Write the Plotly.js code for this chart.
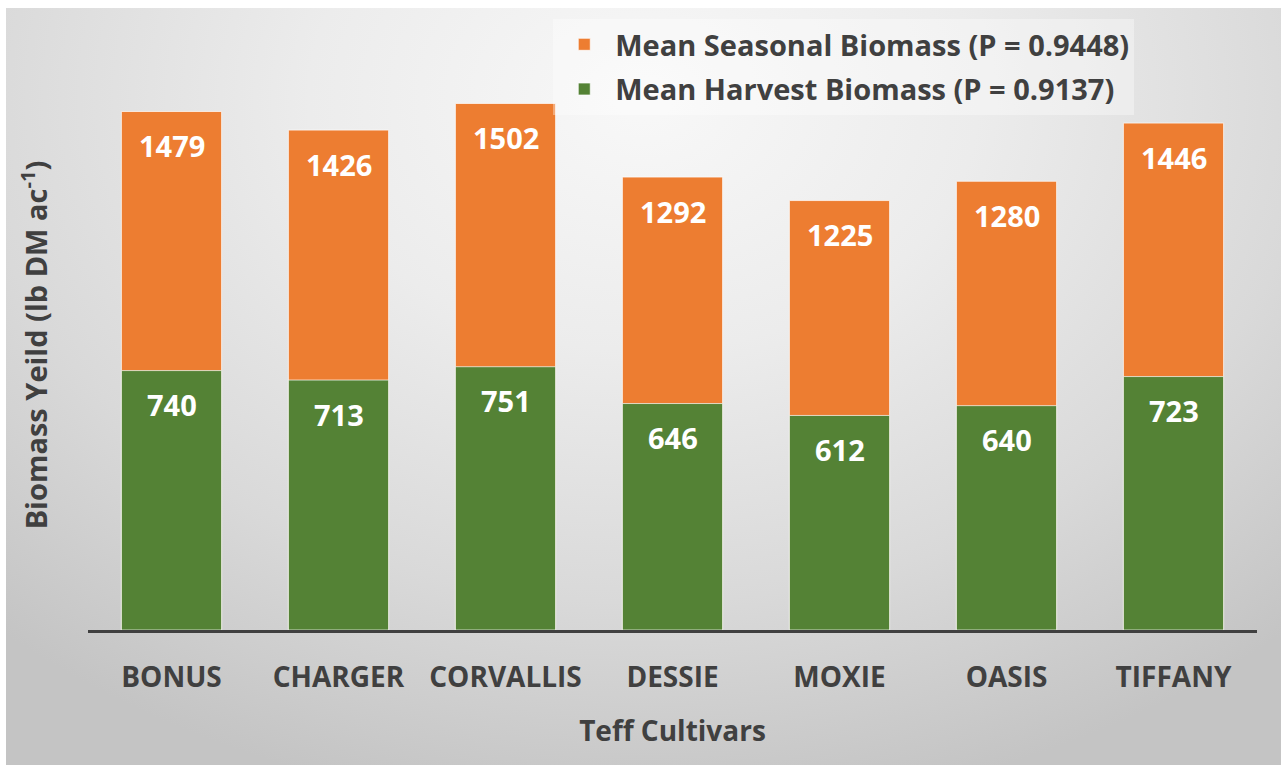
<!DOCTYPE html>
<html>
<head>
<meta charset="utf-8">
<script src="https://cdn.plot.ly/plotly-3.0.1.min.js"></script>
<style>
  html, body { margin:0; padding:0; background:#ffffff; width:1281px; height:765px; overflow:hidden; }
  #bg { position:absolute; left:6px; top:8px; width:1275px; height:757px;
        background: radial-gradient(ellipse 75% 95% at 50% 12%, #f8f8f8 0%, #ececec 35%, #d9d9d9 70%, #c4c4c4 100%); }
  #chart { position:absolute; left:0; top:0; width:1281px; height:765px; }
</style>
</head>
<body>
<div id="bg"></div>
<div id="chart"></div>
<script>
const cultivars = ["BONUS", "CHARGER", "CORVALLIS", "DESSIE", "MOXIE", "OASIS", "TIFFANY"];
const seasonalBiomass = [1479, 1426, 1502, 1292, 1225, 1280, 1446];
const harvestBiomass = [740, 713, 751, 646, 612, 640, 723];
const seasonalName = "Mean Seasonal Biomass (P = 0.9448)";
const harvestName = "Mean Harvest Biomass (P = 0.9137)";

const textColor = "#404040";
const fontFam = "'Open Sans', 'DejaVu Sans', sans-serif";

const traces = [
  {
    type: "bar", x: cultivars, y: seasonalBiomass, name: seasonalName, legendgroup: "a",
    marker: { color: "#ED7D31", line: { color: "rgba(255,255,255,0.7)", width: 1 } },
    hoverinfo: "x+y"
  },
  {
    type: "bar", x: cultivars, y: harvestBiomass, name: harvestName, legendgroup: "b",
    marker: { color: "#548235", line: { color: "rgba(255,255,255,0.7)", width: 1 } },
    hoverinfo: "x+y"
  }
];

const annotations = [];
[seasonalBiomass, harvestBiomass].forEach(series => {
  series.forEach((v, i) => {
    annotations.push({
      x: cultivars[i], y: v, xref: "x", yref: "y",
      text: String(v), showarrow: false, yanchor: "middle", yshift: -34,
      font: { family: fontFam, size: 29, color: "#ffffff", weight: "bold" }
    });
  });
});

const layout = {
  width: 1281, height: 765,
  paper_bgcolor: "rgba(0,0,0,0)",
  plot_bgcolor: "rgba(0,0,0,0)",
  margin: { l: 88, r: 24, t: 60, b: 135 },
  barmode: "overlay",
  bargap: 0.4,
  showlegend: true,
  legend: {
    x: 0.398, y: 1.072, xanchor: "left", yanchor: "top",
    bgcolor: "rgba(255,255,255,0.35)",
    font: { family: fontFam, size: 29, color: textColor, weight: "bold" },
    traceorder: "grouped",
    tracegroupgap: 4,
    itemwidth: 52,
    itemclick: false
  },
  xaxis: {
    type: "category",
    showline: true, linecolor: "#404040", linewidth: 3,
    ticks: "outside", ticklen: 20, tickcolor: "rgba(0,0,0,0)",
    tickfont: { family: fontFam, size: 28, color: textColor, weight: "bold" },
    showgrid: false, zeroline: false,
    title: { text: "Teff Cultivars", standoff: 28,
             font: { family: fontFam, size: 28, color: textColor, weight: "bold" } }
  },
  yaxis: {
    range: [0, 1626],
    showline: false, showgrid: false, zeroline: false,
    showticklabels: false, ticks: "",
    title: { text: "Biomass Yeild (lb DM ac<sup>-1</sup>)", standoff: 30,
             font: { family: fontFam, size: 29, color: textColor, weight: "bold" } }
  },
  annotations: annotations
};

Plotly.newPlot("chart", traces, layout, { displayModeBar: false, staticPlot: true });
</script>
</body>
</html>
